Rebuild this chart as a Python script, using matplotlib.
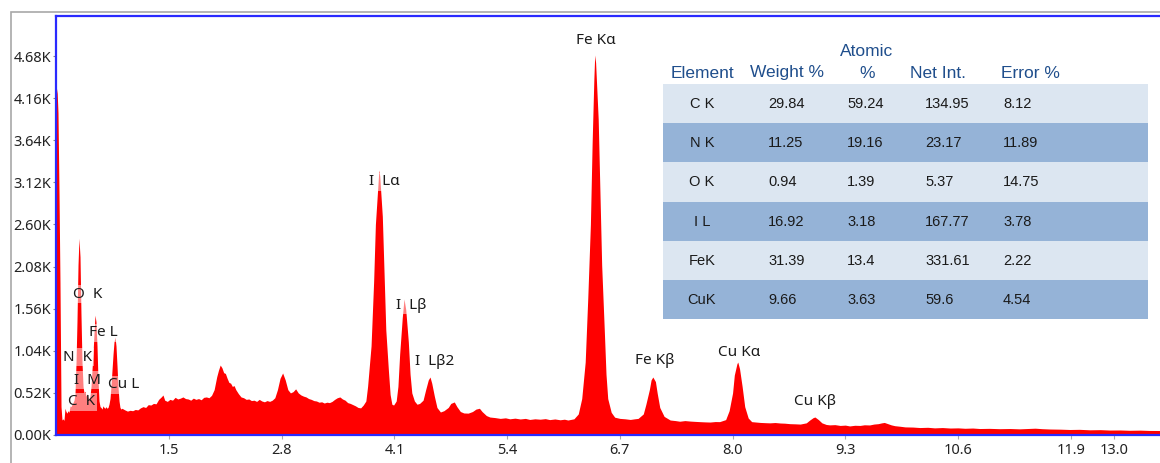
import numpy as np
import matplotlib.pyplot as plt
from matplotlib.patches import Rectangle

# EDS spectrum (energy in keV, counts), split by region
e_low = [0.200, 0.208, 0.219, 0.231, 0.242, 0.254, 0.265, 0.277, 0.288, 0.300,
         0.311, 0.323, 0.334, 0.346, 0.358, 0.369, 0.381, 0.392, 0.404, 0.415,
         0.427, 0.438, 0.450, 0.461, 0.473, 0.484, 0.496, 0.508, 0.519, 0.531,
         0.542, 0.554, 0.565, 0.577, 0.588, 0.600, 0.611, 0.623, 0.634, 0.646,
         0.657, 0.669, 0.680, 0.692, 0.704, 0.715, 0.727, 0.738, 0.750, 0.761,
         0.773, 0.784, 0.796, 0.807, 0.819, 0.830, 0.842, 0.854, 0.865, 0.877,
         0.888, 0.900, 0.911, 0.923, 0.934, 0.946, 0.957]
c_low = [4200, 4280, 3980, 2960, 1880, 350, 185, 200, 180, 330,
         290, 270, 300, 280, 360, 350, 380, 400, 430, 500,
         900, 1400, 2100, 2430, 2200, 1500, 900, 600, 520, 540,
         480, 510, 470, 440, 480, 600, 800, 1000, 1250, 1480,
         1400, 1100, 700, 420, 350, 340, 320, 360, 340, 330,
         350, 330, 340, 380, 450, 600, 800, 1000, 1150, 1210,
         1100, 850, 600, 420, 340, 320, 330]

e_mid = [0.99, 1.02, 1.05, 1.08, 1.11, 1.14, 1.17, 1.20, 1.23, 1.26,
         1.29, 1.32, 1.35, 1.38, 1.41, 1.43, 1.45, 1.48, 1.51, 1.54,
         1.57, 1.60, 1.63, 1.66, 1.69, 1.72, 1.75, 1.78, 1.81, 1.84,
         1.87, 1.90, 1.93, 1.96, 1.99, 2.02, 2.05, 2.07, 2.09, 2.11,
         2.13, 2.15, 2.17, 2.19, 2.21, 2.23, 2.25, 2.27, 2.30, 2.33,
         2.36, 2.39, 2.42, 2.45, 2.48, 2.51, 2.54, 2.57, 2.60, 2.63,
         2.66, 2.69, 2.72, 2.75, 2.78, 2.81, 2.84, 2.87, 2.90, 2.93,
         2.96, 2.99, 3.02, 3.05, 3.08, 3.11, 3.14, 3.17, 3.20, 3.23,
         3.26, 3.29, 3.32, 3.35, 3.38, 3.41, 3.44, 3.47, 3.50, 3.53,
         3.56, 3.59, 3.62, 3.65, 3.68, 3.71, 3.74, 3.77]
c_mid = [310, 295, 305, 300, 315, 310, 335, 350, 340, 375,
         370, 390, 385, 440, 470, 494, 430, 415, 440, 430,
         465, 445, 455, 470, 450, 445, 430, 455, 440, 450,
         435, 465, 470, 460, 490, 560, 720, 800, 864, 830,
         770, 760, 700, 650, 640, 600, 610, 560, 510, 470,
         460, 440, 445, 425, 430, 415, 440, 420, 410, 425,
         415, 430, 460, 560, 700, 766, 680, 560, 520, 535,
         570, 520, 495, 480, 470, 450, 440, 425, 420, 405,
         410, 395, 405, 400, 415, 440, 460, 470, 445, 430,
         400, 390, 375, 360, 340, 335, 370, 420]

e_il = [3.79, 3.83, 3.86, 3.88, 3.91, 3.92, 3.93, 3.96, 3.98, 4.00,
        4.03, 4.05, 4.07, 4.09, 4.12, 4.14, 4.16, 4.19, 4.21, 4.23,
        4.26, 4.28, 4.30, 4.33, 4.36, 4.39, 4.43, 4.46, 4.49, 4.51,
        4.53, 4.56, 4.59, 4.63, 4.67, 4.72, 4.75, 4.79, 4.82, 4.86,
        4.90, 4.95, 5.00, 5.04, 5.08, 5.11, 5.16, 5.20, 5.26, 5.32,
        5.38, 5.43, 5.49, 5.55, 5.61, 5.66, 5.72, 5.78, 5.84, 5.89,
        5.95, 6.01, 6.06, 6.10, 6.17]
c_il = [600, 1100, 1900, 2600, 3100, 3273, 3200, 2700, 2000, 1300,
        800, 500, 380, 370, 420, 600, 1000, 1450, 1680, 1550,
        1150, 750, 520, 420, 380, 390, 430, 560, 680, 716,
        640, 480, 340, 284, 300, 340, 390, 408, 350, 290,
        272, 270, 290, 320, 330, 290, 240, 222, 215, 205,
        212, 200, 208, 198, 205, 192, 200, 195, 202, 190,
        198, 188, 195, 185, 200]

e_k = [6.22, 6.26, 6.30, 6.33, 6.36, 6.38, 6.40, 6.41, 6.42, 6.45,
       6.47, 6.49, 6.52, 6.54, 6.56, 6.60, 6.64, 6.70, 6.76, 6.82,
       6.87, 6.91, 6.97, 7.00, 7.04, 7.06, 7.08, 7.11, 7.13, 7.16,
       7.21, 7.28, 7.34, 7.39, 7.45, 7.51, 7.57, 7.62, 7.68, 7.74,
       7.80, 7.85, 7.92, 7.96, 8.00, 8.02, 8.05, 8.06, 8.08, 8.11,
       8.14, 8.18, 8.22, 8.27, 8.32, 8.38, 8.43, 8.49, 8.55, 8.60,
       8.66, 8.72, 8.78, 8.85, 8.89, 8.93, 8.95, 8.99, 9.03, 9.08,
       9.12, 9.18, 9.24, 9.30, 9.35, 9.41, 9.47, 9.52, 9.58, 9.63,
       9.68, 9.72, 9.75, 9.79, 9.83, 9.87, 9.93, 9.99, 10.08, 10.16,
       10.25, 10.33, 10.42, 10.51, 10.60, 10.68, 10.77, 10.85, 10.96, 11.08,
       11.20, 11.31, 11.40, 11.49, 11.57, 11.66, 11.78, 11.89, 12.00, 12.12,
       12.24, 12.35, 12.47, 12.58, 12.70, 12.81, 12.95]
c_k = [260, 450, 900, 1700, 2600, 3600, 4400, 4693, 4600, 3900,
       3000, 2100, 1300, 750, 450, 280, 220, 205, 200, 192,
       200, 205, 260, 380, 560, 680, 716, 660, 520, 340,
       230, 185, 178, 170, 178, 172, 168, 165, 162, 160,
       166, 165, 190, 300, 520, 740, 880, 901, 820, 600,
       350, 210, 165, 160, 155, 152, 150, 154, 148, 146,
       140, 138, 135, 150, 185, 215, 222, 190, 150, 130,
       125, 128, 118, 122, 112, 120, 118, 126, 124, 135,
       140, 150, 155, 140, 125, 115, 108, 100, 98, 92,
       95, 88, 92, 86, 88, 83, 86, 80, 82, 78,
       80, 76, 80, 84, 78, 74, 72, 68, 70, 64,
       66, 61, 62, 58, 60, 56, 55]

# peak markers
peak_names = ['Fe Kα', 'I  Lα', 'I  Lβ', 'I  Lβ2', 'Fe Kβ', 'Cu Kα', 'Cu Kβ',
              'O  K', 'Fe L', 'N  K', 'I  M', 'Cu L', 'C  K']
peak_e = [6.42, 3.98, 4.29, 4.56, 7.10, 8.07, 8.95,
          0.565, 0.738, 0.45, 0.565, 0.98, 0.496]
peak_c = [4878, 3125, 1605, 902, 926, 1025, 408,
          1741, 1260, 963, 679, 618, 408]

# axis ticks
xtick_pos = [1.5, 2.8, 4.1, 5.4, 6.7, 8.0, 9.3, 10.6, 11.9, 12.4]
xtick_labels = ['1.5', '2.8', '4.1', '5.4', '6.7', '8.0', '9.3', '10.6', '11.9', '13.0']
ytick_pos = [0, 520, 1040, 1560, 2080, 2600, 3120, 3640, 4160, 4680]
ytick_labels = ['0.00K', '0.52K', '1.04K', '1.56K', '2.08K', '2.60K', '3.12K',
                '3.64K', '4.16K', '4.68K']

# quantification table
tbl_element = ['C K', 'N K', 'O K', 'I L', 'FeK', 'CuK']
tbl_weight = ['29.84', '11.25', '0.94', '16.92', '31.39', '9.66']
tbl_atomic = ['59.24', '19.16', '1.39', '3.18', '13.4', '3.63']
tbl_net = ['134.95', '23.17', '5.37', '167.77', '331.61', '59.6']
tbl_error = ['8.12', '11.89', '14.75', '3.78', '2.22', '4.54']

W, H = 1160, 463


def fx(x):
    return x / W


def fy(y):
    return 1 - y / H


energy = np.concatenate([e_low, e_mid, e_il, e_k])
counts = np.concatenate([c_low, c_mid, c_il, c_k])

fig = plt.figure(figsize=(W / 100, H / 100), dpi=100)
fig.patch.set_facecolor('white')

# outer panel frame
fig.add_artist(Rectangle((fx(11), -0.1), 2, fy(12) + 0.1, transform=fig.transFigure,
                         fill=False, edgecolor='#a8a8a8', lw=1.2))

ax = fig.add_axes([fx(56), fy(435), (W - 56) / W, (435 - 16) / H])
ax.fill_between(energy, counts, 0, color='#ff0000', lw=0)
ax.set_xlim(0.196, 12.93)
ax.set_ylim(0, 5175)

for s in ['left', 'top', 'bottom']:
    ax.spines[s].set_color('#2a2aff')
    ax.spines[s].set_linewidth(1.6)
ax.spines['right'].set_visible(False)

ax.set_xticks(xtick_pos)
ax.set_xticklabels(xtick_labels)
ax.set_yticks(ytick_pos)
ax.set_yticklabels(ytick_labels)
ax.tick_params(axis='x', length=3, color='#aaaaaa', pad=3, labelsize=10.5,
               labelcolor='#222222')
ax.tick_params(axis='y', length=2.5, color='#888888', pad=1, labelsize=10.5,
               labelcolor='#222222')
for lab in ax.get_xticklabels() + ax.get_yticklabels():
    lab.set_family('Noto Sans')

for name, e, c in zip(peak_names, peak_e, peak_c):
    ax.text(e, c, name, ha='center', va='center', fontsize=11,
            family='Noto Sans', color='#1a1a1a',
            bbox=dict(boxstyle='square,pad=0.08', facecolor='white',
                      edgecolor='none', alpha=0.5))

# table rows
row_top = 84
row_h = 39.2
light, dark = '#dce6f1', '#95b3d7'
for i in range(len(tbl_element)):
    y0 = row_top + i * row_h
    fig.add_artist(Rectangle((fx(663), fy(y0 + row_h)), (1148 - 663) / W, row_h / H,
                             transform=fig.transFigure,
                             facecolor=light if i % 2 == 0 else dark,
                             edgecolor='none'))
    yc = fy(y0 + row_h / 2 + 0.5)
    fig.text(fx(702), yc, tbl_element[i], ha='center', va='center',
             fontsize=10.5, family='Liberation Sans', color='#1a1a1a')
    for xl, vals in zip([768, 847, 925, 1003],
                        [tbl_weight, tbl_atomic, tbl_net, tbl_error]):
        fig.text(fx(xl), yc, vals[i], ha='left', va='center',
                 fontsize=10.5, family='Liberation Sans', color='#1a1a1a')

# table header
hdr = dict(ha='center', va='center', fontsize=12.5, family='Liberation Sans',
           color='#1f4e8c')
fig.text(fx(702), fy(73), 'Element', **hdr)
fig.text(fx(787), fy(73), 'Weight %', **hdr)
fig.text(fx(867), fy(51), 'Atomic', **hdr)
fig.text(fx(867), fy(73), '%', **hdr)
fig.text(fx(938), fy(73), 'Net Int.', **hdr)
fig.text(fx(1030), fy(73), 'Error %', **hdr)

fig.savefig('out.png', dpi=100)
